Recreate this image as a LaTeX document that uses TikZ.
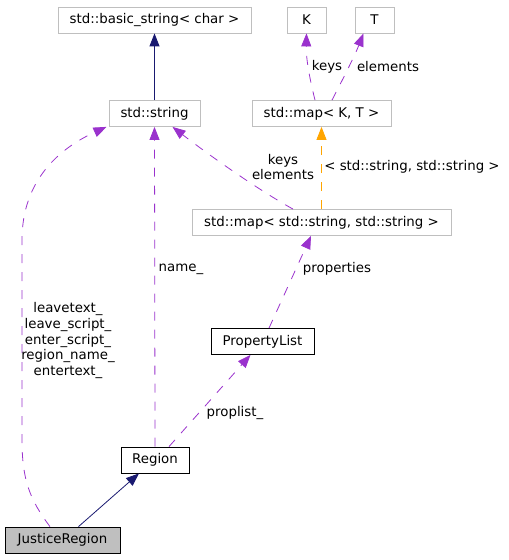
\documentclass[tikz,border=0pt]{standalone}
\usepackage{fontspec}
\setmainfont{DejaVu Sans}
\usepackage{tikz}
\usetikzlibrary{arrows.meta}
\definecolor{edgeblue}{HTML}{191970}
\definecolor{edgepurple}{HTML}{9A32CD}
\definecolor{edgeorange}{HTML}{FFA500}
\definecolor{boxgray}{HTML}{BFBFBF}

\tikzset{
  cls/.style={draw=black, line width=0.8bp, inner sep=0pt, minimum height=26bp},
  extcls/.style={cls, draw=boxgray},
  uses/.style={edgepurple, line width=0.8bp, dash pattern=on 9bp off 9bp},
  tmpl/.style={edgeorange, line width=0.8bp, dash pattern=on 9bp off 9bp},
  inherit/.style={edgeblue, line width=0.8bp},
  lbl/.style={inner sep=0pt, align=center},
}

\begin{document}
\begin{tikzpicture}[x=1bp, y=-1bp, font=\fontsize{13.4}{16}\selectfont,
    >={Triangle[length=13bp,width=10bp]}]
  \useasboundingbox (0,0) rectangle (509,560);

  % classes
  \node[extcls, minimum width=193bp] (bstr)   at (154.5,20)   {std::basic\_string< char >};
  \node[extcls, minimum width=39bp]  (K)      at (306.5,20)   {K};
  \node[extcls, minimum width=39bp]  (T)      at (374.5,20)   {T};
  \node[extcls, minimum width=91bp]  (str)    at (154.5,113.5) {std::string};
  \node[extcls, minimum width=139bp] (mapKT)  at (321.5,113.5) {std::map< K, T >};
  \node[extcls, minimum width=259bp] (mapss)  at (321.5,222.5) {std::map< std::string, std::string >};
  \node[cls, minimum width=103bp]    (plist)  at (262.5,341.5) {PropertyList};
  \node[cls, minimum width=68bp]     (region) at (155,460)    {Region};
  \node[cls, minimum width=115bp, fill=boxgray] (jr) at (62.5,540) {JusticeRegion};

  % inheritance
  \path[->, inherit]
  (str.north) edge (bstr.south)
  ([xshift=16bp]jr.north) edge ([xshift=-16bp]region.south)
  ;

  % members
  \draw[->, uses] ([xshift=-6.5bp]mapKT.north) .. controls (310,80) and (306,60) .. (K.south);
  \draw[->, uses] ([xshift=10.5bp]mapKT.north) .. controls (345,75) and (355,55) .. ([xshift=-11bp]T.south);
  \draw[->, uses] ([xshift=-28.5bp]mapss.north) .. controls (255,188) and (205,152) .. ([xshift=18bp]str.south);
  \draw[->, tmpl] (mapss.north) -- (mapKT.south);
  \path[->, uses]
  (region.north) edge (str.south)
  ([xshift=14bp]region.north) edge ([xshift=-12bp]plist.south)
  ([xshift=6.5bp]plist.north) edge ([xshift=-10.5bp]mapss.south)
  ;
  \draw[->, uses] ([xshift=-12.5bp]jr.north) .. controls (30,500) and (22,480) .. (22,440)
    -- (22,240) .. controls (22,180) and (60,148) .. ([xshift=-48bp]str.south);

  % labels
  \node[lbl] (lkeys)  at (327,67)  {keys};
  \node[lbl] (lelem)  at (388,67)  {elements};
  \node[lbl] (lke)    at (283,167) {keys\\elements};
  \node[lbl] (ltmpl)  at (412,167) {< std::string, std::string >};
  \node[lbl] (lname)  at (181,269) {name\_};
  \node[lbl] (lprops) at (337,269) {properties};
  \node[lbl] (lplist) at (235,413) {proplist\_};
  \node[lbl] (ljr)    at (68,340.5) {leavetext\_\\leave\_script\_\\enter\_script\_\\region\_name\_\\entertext\_};
\end{tikzpicture}
\end{document}
